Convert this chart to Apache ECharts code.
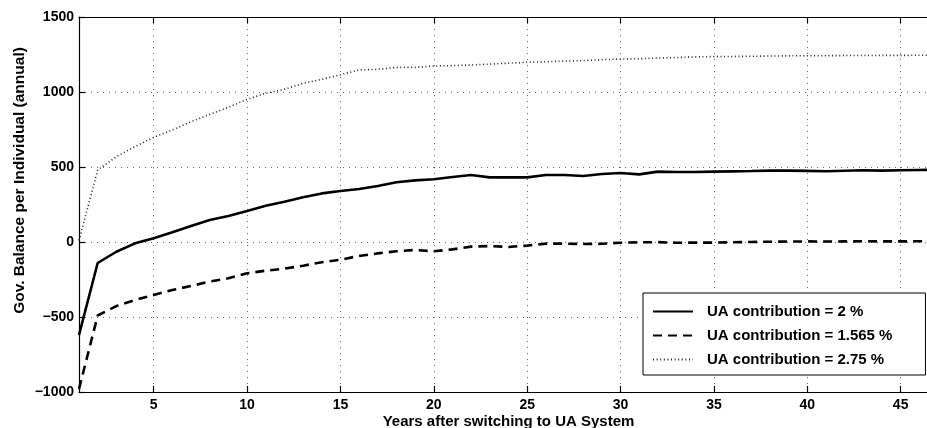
<!DOCTYPE html>
<html>
<head>
<meta charset="utf-8">
<script src="https://cdn.jsdelivr.net/npm/echarts@6/dist/echarts.min.js"></script>
<style>
  html, body { margin: 0; padding: 0; background: #fff; }
  #chart { width: 927px; height: 428px; }
</style>
</head>
<body>
<div id="chart"></div>
<script>
// Years after the switch (x axis)
const years = [1,2,3,4,5,6,7,8,9,10,11,12,13,14,15,16,17,18,19,20,21,22,23,24,25,26,27,28,29,30,31,32,33,34,35,36,37,38,39,40,41,42,43,44,45,46,47];

// Government balance per individual for each contribution rate
const balance2 = [-620,-140,-65,-9,25,65,107,147,173,207,242,269,298,324,340,353,373,398,411,418,433,447,431,431,431,447,447,440,453,460,451,469,467,467,469,471,473,476,476,474,472,475,478,476,478,480,482];
const balance1565 = [-980,-490,-427,-387,-353,-320,-293,-264,-242,-209,-191,-178,-158,-135,-118,-93,-76,-62,-53,-62,-49,-31,-27,-33,-24,-11,-11,-13,-12,-5,-2,-1,-5,-4,-4,-2,0,2,3,4,3,4,5,4,4,5,5];
const balance275 = [10,480,569,636,698,747,802,851,898,951,991,1018,1058,1084,1115,1147,1151,1164,1164,1173,1176,1180,1186,1192,1198,1202,1206,1210,1215,1220,1222,1226,1230,1234,1236,1237,1238,1240,1241,1242,1242,1243,1243,1244,1244,1245,1245];

const seriesNames = ['UA contribution = 2 %', 'UA contribution = 1.565 %', 'UA contribution = 2.75 %'];

// Tick labels
const xTicks = [5,10,15,20,25,30,35,40,45];

const font = 'Liberation Sans, Helvetica, Arial, sans-serif';
const pair = arr => years.map((y, i) => [y, arr[i]]);

const chart = echarts.init(document.getElementById('chart'), null, { renderer: 'canvas' });

const gridDotted = { show: true, lineStyle: { color: '#666', width: 1, type: [1, 5] } };

chart.setOption({
  animation: false,
  backgroundColor: '#fff',
  grid: { left: 79, top: 17, bottom: 36, right: -11, outerBoundsMode: 'none', containLabel: false },
  legend: {
    orient: 'vertical',
    left: 643,
    top: 293,
    itemWidth: 40,
    itemHeight: 14,
    itemGap: 9,
    padding: [11, 33, 8, 9],
    borderColor: '#000',
    borderWidth: 1,
    borderRadius: 0,
    backgroundColor: '#fff',
    itemStyle: { opacity: 0 },
    textStyle: { fontFamily: font, fontWeight: 'bold', fontSize: 15, color: '#000', padding: [0, 0, 0, 9] },
    data: seriesNames
  },
  xAxis: [{
    type: 'value',
    min: 1,
    max: 47,
    position: 'bottom',
    name: 'Years after switching to UA System',
    nameLocation: 'middle',
    nameGap: 22,
    nameMoveOverlap: false,
    nameTextStyle: { fontFamily: font, fontWeight: 'bold', fontSize: 15, color: '#000' },
    axisLine: { show: true, onZero: false, lineStyle: { color: '#000', width: 1.2 } },
    axisTick: { show: true, inside: true, length: 6, customValues: xTicks, lineStyle: { color: '#000', width: 1.2 } },
    axisLabel: { customValues: xTicks, margin: 6, fontFamily: font, fontWeight: 'bold', fontSize: 14, color: '#000' },
    splitLine: gridDotted
  }, {
    type: 'value',
    min: 1,
    max: 47,
    position: 'top',
    axisLine: { show: true, onZero: false, lineStyle: { color: '#000', width: 1.2 } },
    axisTick: { show: true, inside: true, length: 6, customValues: xTicks, lineStyle: { color: '#000', width: 1.2 } },
    axisLabel: { show: false },
    splitLine: { show: false }
  }],
  yAxis: {
    type: 'value',
    min: -1000,
    max: 1500,
    interval: 500,
    name: 'Gov. Balance per Individual (annual)',
    nameLocation: 'middle',
    nameGap: 51,
    nameMoveOverlap: false,
    nameTextStyle: { fontFamily: font, fontWeight: 'bold', fontSize: 15.5, color: '#000', padding: [0, 0, 0, 48] },
    axisLine: { show: true, onZero: false, lineStyle: { color: '#000', width: 1.2 } },
    axisTick: { show: true, inside: true, length: 6, lineStyle: { color: '#000', width: 1.2 } },
    axisLabel: {
      margin: 5,
      fontFamily: font, fontWeight: 'bold', fontSize: 14, color: '#000',
      formatter: v => String(v).replace('-', '\u2212')
    },
    splitLine: gridDotted
  },
  series: [{
    name: seriesNames[0],
    type: 'line',
    data: pair(balance2),
    showSymbol: false,
    symbol: 'none',
    clip: true,
    lineStyle: { color: '#000', width: 2.6, type: 'solid' },
    itemStyle: { color: '#000' }
  }, {
    name: seriesNames[1],
    type: 'line',
    data: pair(balance1565),
    showSymbol: false,
    symbol: 'none',
    clip: true,
    lineStyle: { color: '#000', width: 2.6, type: [9, 6] },
    itemStyle: { color: '#000' }
  }, {
    name: seriesNames[2],
    type: 'line',
    data: pair(balance275),
    showSymbol: false,
    symbol: 'none',
    clip: true,
    lineStyle: { color: '#222', width: 1.6, type: [1, 2.6] },
    itemStyle: { color: '#222' }
  }]
});
</script>
</body>
</html>
